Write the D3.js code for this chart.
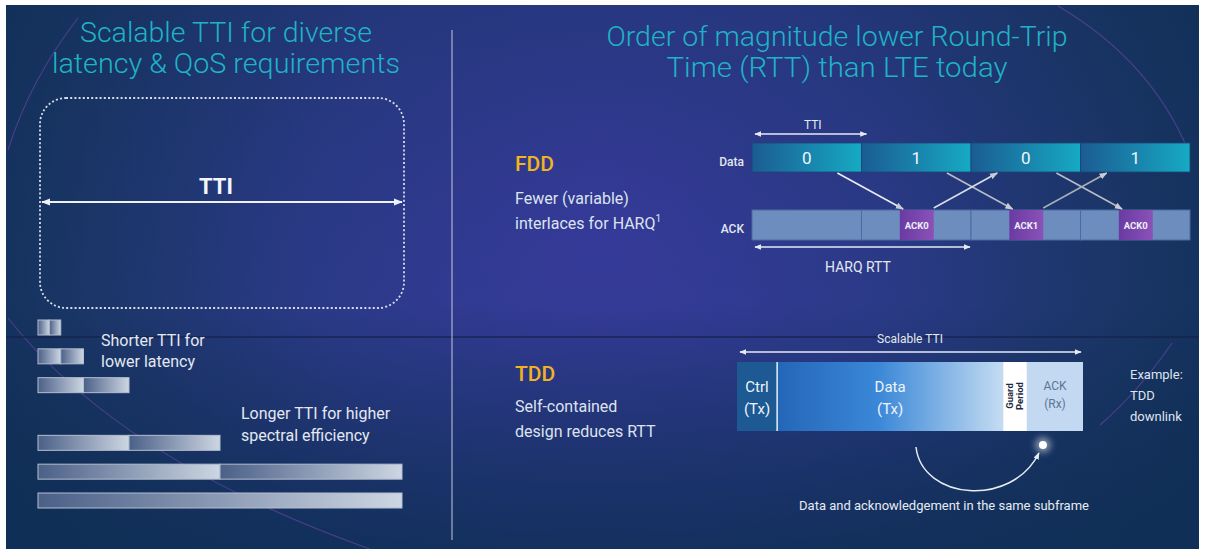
<!DOCTYPE html>
<html><head><meta charset="utf-8">
<script src="https://cdn.jsdelivr.net/npm/d3@7"></script>
<style>
body{margin:0;background:#fff}
svg{display:block}
text{font-family:Roboto,"Open Sans","DejaVu Sans",sans-serif}
</style>
</head><body>
<svg id="c" width="1205" height="549"></svg>
<script>
// ---------- data ----------
const leftTitle = ["Scalable TTI for diverse", "latency & QoS requirements"];
const rightTitle = ["Order of magnitude lower Round-Trip", "Time (RTT) than LTE today"];
const ttiBars = [[0.125, 0.125], [0.25, 0.25], [0.5, 0.5], [1, 1], [2, 2], [4]];
const shortLabel = ["Shorter TTI for", "lower latency"];
const longLabel = ["Longer TTI for higher", "spectral efficiency"];
const fddLabel = ["Fewer (variable)", "interlaces for HARQ"];
const fddData = ["0", "1", "0", "1"];
const fddAck = [{slot: 1, label: "ACK0"}, {slot: 2, label: "ACK1"}, {slot: 3, label: "ACK0"}];
const harqDown = [{from: 0, to: 1}, {from: 1, to: 2}, {from: 2, to: 3}];
const harqUp = [{from: 1, to: 2}, {from: 2, to: 3}];
const tddLabel = ["Self-contained", "design reduces RTT"];
const tddSegments = ["Ctrl (Tx)", "Data (Tx)", "Guard Period", "ACK (Rx)"];
const tddShare = [0.116, 0.653, 0.069, 0.162];
const exampleLabel = ["Example:", "TDD", "downlink"];

// ---------- setup ----------
const svg = d3.select("#c");
const defs = svg.append("defs");

const bg = defs.append("radialGradient").attr("id", "bg").attr("gradientUnits", "userSpaceOnUse")
  .attr("cx", 600).attr("cy", 230).attr("r", 640);
bg.append("stop").attr("offset", 0).attr("stop-color", "#373b9c");
bg.append("stop").attr("offset", 0.45).attr("stop-color", "#2b3a88");
bg.append("stop").attr("offset", 0.8).attr("stop-color", "#1b3668");
bg.append("stop").attr("offset", 1).attr("stop-color", "#12325a");

const bgv = defs.append("linearGradient").attr("id", "bgv").attr("x1", 0).attr("y1", 0).attr("x2", 0).attr("y2", 1);
bgv.append("stop").attr("offset", 0).attr("stop-color", "#0f2a50").attr("stop-opacity", 0.2);
bgv.append("stop").attr("offset", 0.55).attr("stop-color", "#0f2a50").attr("stop-opacity", 0);
bgv.append("stop").attr("offset", 1).attr("stop-color", "#0e2e55").attr("stop-opacity", 0.8);

const segG = defs.append("linearGradient").attr("id", "seg");
segG.append("stop").attr("offset", 0).attr("stop-color", "#4b6088");
segG.append("stop").attr("offset", 1).attr("stop-color", "#cdd6e2");

const dataG = defs.append("linearGradient").attr("id", "dataSeg");
dataG.append("stop").attr("offset", 0).attr("stop-color", "#1b5c92");
dataG.append("stop").attr("offset", 1).attr("stop-color", "#16aac3");

const ackBoxG = defs.append("linearGradient").attr("id", "ackBox");
ackBoxG.append("stop").attr("offset", 0).attr("stop-color", "#6a3aa2");
ackBoxG.append("stop").attr("offset", 1).attr("stop-color", "#8a52b8");

const tddG = defs.append("linearGradient").attr("id", "tddData");
tddG.append("stop").attr("offset", 0).attr("stop-color", "#2466b8");
tddG.append("stop").attr("offset", 0.45).attr("stop-color", "#3b88d8");
tddG.append("stop").attr("offset", 1).attr("stop-color", "#c4dcf2");

const glow = defs.append("filter").attr("id", "glow").attr("x", "-100%").attr("y", "-100%").attr("width", "300%").attr("height", "300%");
glow.append("feGaussianBlur").attr("stdDeviation", 3);

function marker(id, color, size) {
  defs.append("marker").attr("id", id).attr("viewBox", "0 0 10 10")
    .attr("refX", 9).attr("refY", 5).attr("markerWidth", size).attr("markerHeight", size)
    .attr("markerUnits", "userSpaceOnUse").attr("orient", "auto-start-reverse")
    .append("path").attr("d", "M0,1 L10,5 L0,9 z").attr("fill", color);
}
marker("arW", "#eef2f8", 9);
marker("arS", "#e6ebf3", 7);
marker("arG", "#c9ccd4", 8);

// background
svg.append("rect").attr("x", 6).attr("y", 5).attr("width", 1193).attr("height", 544).attr("fill", "url(#bg)");
svg.append("rect").attr("x", 6).attr("y", 5).attr("width", 1193).attr("height", 544).attr("fill", "url(#bgv)");

// faint arcs
const arcs = [
  "M78,18 Q30,80 8,150",
  "M8,318 Q120,460 370,549",
  "M1058,6 Q1150,60 1188,150",
  "M1172,343 Q1140,390 1100,425"
];
svg.selectAll("path.arc").data(arcs).join("path").attr("class", "arc").attr("d", d => d)
  .attr("fill", "none").attr("stroke", "#8a4fc0").attr("stroke-opacity", 0.45).attr("stroke-width", 1.2);

// dividers
svg.append("line").attr("x1", 6).attr("x2", 1199).attr("y1", 337).attr("y2", 337)
  .attr("stroke", "#14204a").attr("stroke-width", 1.5).attr("stroke-opacity", 0.8);
svg.append("line").attr("x1", 452).attr("x2", 452).attr("y1", 30).attr("y2", 540)
  .attr("stroke", "#c8cde0").attr("stroke-width", 1.3).attr("stroke-opacity", 0.75);

// ---------- titles ----------
function title(lines, cx, ys, widths, size) {
  svg.append("g").selectAll("text").data(lines).join("text")
    .attr("x", cx).attr("y", (d, i) => ys[i]).attr("text-anchor", "middle")
    .attr("font-size", size).attr("font-weight", 300).attr("fill", "#1fb3c6")
    .attr("textLength", (d, i) => widths[i]).attr("lengthAdjust", "spacingAndGlyphs")
    .text(d => d);
}
title(leftTitle, 226, [42, 73], [292, 348], 27);
title(rightTitle, 837, [46, 77], [461, 341], 28);

// ---------- left panel ----------
svg.append("rect").attr("x", 40).attr("y", 98).attr("width", 364).attr("height", 210).attr("rx", 26)
  .attr("fill", "none").attr("stroke", "#d7dde9").attr("stroke-width", 1.8).attr("stroke-dasharray", "2,2.2");
svg.append("line").attr("x1", 42).attr("x2", 402).attr("y1", 202).attr("y2", 202)
  .attr("stroke", "#eef2f8").attr("stroke-width", 2.2)
  .attr("marker-start", "url(#arW)").attr("marker-end", "url(#arW)");
svg.append("text").attr("x", 216).attr("y", 194).attr("text-anchor", "middle").attr("font-size", 22)
  .attr("font-weight", 700).attr("fill", "#f4f6fb").text("TTI");

const tx = d3.scaleLinear().domain([0, 4]).range([38, 402]);
const ty = d3.scaleLinear().domain([0, 6]).range([320, 493]);
const barH = 15;
ttiBars.forEach((segs, i) => {
  const row = i < 3 ? i : i + 1;
  let start = 0;
  const g = svg.append("g");
  segs.forEach(len => {
    g.append("rect").attr("x", tx(start)).attr("y", ty(row)).attr("width", tx(start + len) - tx(start)).attr("height", barH)
      .attr("fill", "url(#seg)").attr("stroke", "#b3bed0").attr("stroke-width", 1);
    start += len;
  });
});

function lines(arr, x, y0, dy, size, color, anchor) {
  return svg.append("g").selectAll("text").data(arr).join("text")
    .attr("x", x).attr("y", (d, i) => y0 + i * dy).attr("font-size", size)
    .attr("fill", color).attr("text-anchor", anchor || "start").text(d => d);
}
lines(shortLabel, 101, 346, 21, 16, "#e3e8f1");
lines(longLabel, 241, 419, 22, 16, "#e3e8f1");

// ---------- FDD ----------
svg.append("text").attr("x", 515).attr("y", 171).attr("font-size", 21).attr("font-weight", 500)
  .attr("fill", "#f2b320").text("FDD");
const fl = lines(fddLabel, 515, 204, 25, 16, "#dde3ef");
fl.filter((d, i) => i === 1).append("tspan").attr("font-size", 10).attr("dy", -7).text("1");

const fx = d3.scaleBand().domain(d3.range(fddData.length)).range([752, 1190]);
const dataY = 143, rowH = 29, ackY = 210;

// TTI arrow
svg.append("line").attr("x1", fx(0) + 3).attr("x2", fx(1) + 5).attr("y1", 134).attr("y2", 134)
  .attr("stroke", "#e6ebf3").attr("stroke-width", 1.5)
  .attr("marker-start", "url(#arS)").attr("marker-end", "url(#arS)");
svg.append("text").attr("x", fx(0) + fx.bandwidth() / 2 + 6).attr("y", 129).attr("text-anchor", "middle")
  .attr("font-size", 12).attr("fill", "#e6ebf3").text("TTI");

svg.append("text").attr("x", 744).attr("y", 166).attr("text-anchor", "end").attr("font-size", 12)
  .attr("fill", "#e3e8f1").attr("font-weight", 500).text("Data");
svg.append("text").attr("x", 744).attr("y", 233).attr("text-anchor", "end").attr("font-size", 12)
  .attr("fill", "#e3e8f1").attr("font-weight", 500).text("ACK");

svg.append("g").selectAll("rect").data(fddData).join("rect")
  .attr("x", (d, i) => fx(i)).attr("y", dataY).attr("width", fx.bandwidth()).attr("height", rowH)
  .attr("fill", "url(#dataSeg)").attr("stroke", "#1a4676").attr("stroke-width", 0.8);
svg.append("g").selectAll("text").data(fddData).join("text")
  .attr("x", (d, i) => fx(i) + fx.bandwidth() / 2).attr("y", dataY + 21).attr("text-anchor", "middle")
  .attr("font-size", 17).attr("fill", "#f2f6fb").text(d => d);

svg.append("g").selectAll("rect").data(fddData).join("rect")
  .attr("x", (d, i) => fx(i)).attr("y", ackY).attr("width", fx.bandwidth()).attr("height", rowH + 1)
  .attr("fill", "#6d8dbf").attr("stroke", "#4c6aa2").attr("stroke-width", 1);

const ackStart = 0.35, ackEnd = 0.66;
svg.append("g").selectAll("rect").data(fddAck).join("rect")
  .attr("x", d => fx(d.slot) + ackStart * fx.bandwidth()).attr("y", ackY)
  .attr("width", (ackEnd - ackStart) * fx.bandwidth()).attr("height", rowH + 1)
  .attr("fill", "url(#ackBox)");
svg.append("g").selectAll("text").data(fddAck).join("text")
  .attr("x", d => fx(d.slot) + (ackStart + ackEnd) / 2 * fx.bandwidth()).attr("y", ackY + 19)
  .attr("text-anchor", "middle").attr("font-size", 9.5).attr("font-weight", 700)
  .attr("fill", "#eef0f8").text(d => d.label);

// HARQ arrows
svg.append("g").selectAll("line").data(harqDown).join("line")
  .attr("x1", d => fx(d.from) + 0.78 * fx.bandwidth()).attr("y1", dataY + rowH + 1)
  .attr("x2", d => fx(d.to) + (ackStart + 0.03) * fx.bandwidth()).attr("y2", ackY - 1)
  .attr("stroke", (d, i) => i === 0 ? "#e8ecf4" : "#b8bcc8").attr("stroke-width", 1.6)
  .attr("marker-end", "url(#arG)");
svg.append("g").selectAll("line").data(harqUp).join("line")
  .attr("x1", d => fx(d.from) + ackEnd * fx.bandwidth()).attr("y1", ackY - 2)
  .attr("x2", d => fx(d.to) + 0.24 * fx.bandwidth()).attr("y2", dataY + rowH + 1)
  .attr("stroke", (d, i) => i === 0 ? "#d8dee8" : "#a8aeb8").attr("stroke-width", 1.6)
  .attr("marker-end", "url(#arG)");

svg.append("line").attr("x1", fx(0) + 3).attr("x2", fx(2) - 1).attr("y1", 247).attr("y2", 247)
  .attr("stroke", "#e6ebf3").attr("stroke-width", 1.6)
  .attr("marker-start", "url(#arS)").attr("marker-end", "url(#arS)");
svg.append("text").attr("x", 858).attr("y", 272).attr("text-anchor", "middle").attr("font-size", 14)
  .attr("fill", "#e3e8f1").text("HARQ RTT");

// ---------- TDD ----------
svg.append("text").attr("x", 515).attr("y", 381).attr("font-size", 21).attr("font-weight", 500)
  .attr("fill", "#f2b320").text("TDD");
lines(tddLabel, 515, 412, 25, 16, "#dde3ef");
lines(exampleLabel, 1130, 379, 21, 13, "#dfe4ee");

const dx = d3.scaleLinear().domain([0, 1]).range([737, 1083]);
const boxY = 362, boxH = 69;
svg.append("text").attr("x", dx(0.5)).attr("y", 343).attr("text-anchor", "middle").attr("font-size", 12)
  .attr("fill", "#e3e8f1").text("Scalable TTI");
svg.append("line").attr("x1", dx(0) + 3).attr("x2", dx(1) - 2).attr("y1", 352).attr("y2", 352)
  .attr("stroke", "#e6ebf3").attr("stroke-width", 1.6)
  .attr("marker-start", "url(#arS)").attr("marker-end", "url(#arS)");

const cum = [0];
tddShare.forEach(s => cum.push(cum[cum.length - 1] + s));
const fills = ["#1d5a94", "url(#tddData)", "#ffffff", "#c3d9f1"];
svg.append("g").selectAll("rect").data(tddSegments).join("rect")
  .attr("x", (d, i) => dx(cum[i])).attr("y", boxY)
  .attr("width", (d, i) => dx(cum[i + 1]) - dx(cum[i])).attr("height", boxH)
  .attr("fill", (d, i) => fills[i]);
svg.append("line").attr("x1", dx(cum[1])).attr("x2", dx(cum[1])).attr("y1", boxY).attr("y2", boxY + boxH)
  .attr("stroke", "#e8f0fa").attr("stroke-width", 1.5);

function segText(i, linesArr, color, size) {
  const cx = (dx(cum[i]) + dx(cum[i + 1])) / 2;
  svg.append("g").selectAll("text").data(linesArr).join("text")
    .attr("x", cx).attr("y", (d, j) => boxY + 30 + j * 22).attr("text-anchor", "middle")
    .attr("font-size", size).attr("fill", color).text(d => d);
}
segText(0, tddSegments[0].split(" "), "#eef3fa", 15);
segText(1, tddSegments[1].split(" "), "#eef3fa", 15);
{
  const cx = (dx(cum[3]) + dx(cum[4])) / 2;
  svg.append("g").selectAll("text").data(tddSegments[3].split(" ")).join("text")
    .attr("x", cx).attr("y", (d, j) => boxY + 28 + j * 18).attr("text-anchor", "middle")
    .attr("font-size", 12).attr("fill", "#5d7596").text(d => d);
  const gx = (dx(cum[2]) + dx(cum[3])) / 2;
  svg.append("g").attr("transform", `translate(${gx},${boxY + 34}) rotate(-90)`)
    .selectAll("text").data(tddSegments[2].split(" ")).join("text")
    .attr("x", 0).attr("y", (d, j) => -2 + j * 10).attr("text-anchor", "middle")
    .attr("font-size", 9.5).attr("font-weight", 700).attr("fill", "#1b2a44").text(d => d);
}

// curved arrow and glowing dot
const dot = [dx(cum[3]) + 16, 445];
svg.append("circle").attr("cx", dot[0]).attr("cy", dot[1]).attr("r", 8).attr("fill", "#ffffff")
  .attr("opacity", 0.45).attr("filter", "url(#glow)");
svg.append("circle").attr("cx", dot[0]).attr("cy", dot[1]).attr("r", 4).attr("fill", "#ffffff");
svg.append("path").attr("d", `M916,447 C922,500 1012,508 ${dot[0] - 4},${dot[1] + 8}`)
  .attr("fill", "none").attr("stroke", "#e8ecf4").attr("stroke-width", 1.5).attr("marker-end", "url(#arS)");
svg.append("text").attr("x", 944).attr("y", 510).attr("text-anchor", "middle").attr("font-size", 13)
  .attr("fill", "#e6ebf3").text("Data and acknowledgement in the same subframe");
</script>
</body></html>
